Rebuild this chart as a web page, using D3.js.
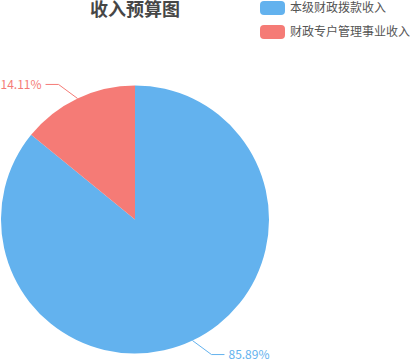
<!DOCTYPE html>
<html><head><meta charset="utf-8">
<script src="https://cdn.jsdelivr.net/npm/d3@7"></script>
<style>body{margin:0;background:#fff;}svg{display:block;}</style>
</head><body>
<svg id="c" width="410" height="360"></svg>
<script>
const categories = ["本级财政拨款收入", "财政专户管理事业收入"];
const values = [85.89, 14.11];
const colors = ["#63b2ee", "#f57b76"];
const title = "收入预算图";

const svg = d3.select("#c");
const font = "'Noto Sans CJK SC', 'Noto Sans', sans-serif";
const cx = 135, cy = 219.5, r = 134;

svg.append("text").attr("x", cx).attr("y", 16).attr("text-anchor", "middle")
  .attr("font-family", font).attr("font-size", 18).attr("font-weight", "bold")
  .attr("fill", "#464646").text(title);

const data = categories.map((c, i) => ({name: c, value: values[i], color: colors[i]}));
const pie = d3.pie().sort(null).value(d => d.value);
const arcs = pie(data);
const arc = d3.arc().innerRadius(0).outerRadius(r);
const g = svg.append("g").attr("transform", `translate(${cx},${cy})`);
g.selectAll("path").data(arcs).join("path").attr("d", arc).attr("fill", d => d.data.color);

// labels
arcs.forEach(a => {
  const mid = (a.startAngle + a.endAngle) / 2;
  const x1 = Math.sin(mid) * r, y1 = -Math.cos(mid) * r;
  const sx = Math.sin(mid) >= 0 ? 1 : -1;
  const sy = -Math.cos(mid) >= 0 ? 1 : -1;
  const x2 = x1 + sx * 19, y2 = y1 + sy * 14;
  const x3 = x2 + sx * 13;
  g.append("polyline").attr("points", `${x1},${y1} ${x2},${y2} ${x3},${y2}`)
    .attr("fill", "none").attr("stroke", a.data.color).attr("stroke-width", 1);
  g.append("text").attr("x", x3 + sx * 4).attr("y", y2).attr("dy", "0.35em")
    .attr("text-anchor", sx > 0 ? "start" : "end")
    .attr("font-family", font).attr("font-size", 12).attr("fill", a.data.color)
    .text(a.data.value.toFixed(2) + "%");
});

// legend
const lg = svg.append("g");
data.forEach((d, i) => {
  const y = 1 + i * 24;
  lg.append("rect").attr("x", 260).attr("y", y).attr("width", 25).attr("height", 14)
    .attr("rx", 4).attr("fill", d.color);
  lg.append("text").attr("x", 290).attr("y", y + 7).attr("dy", "0.35em")
    .attr("font-family", font).attr("font-size", 12).attr("fill", "#555").text(d.name);
});
</script>
</body></html>
